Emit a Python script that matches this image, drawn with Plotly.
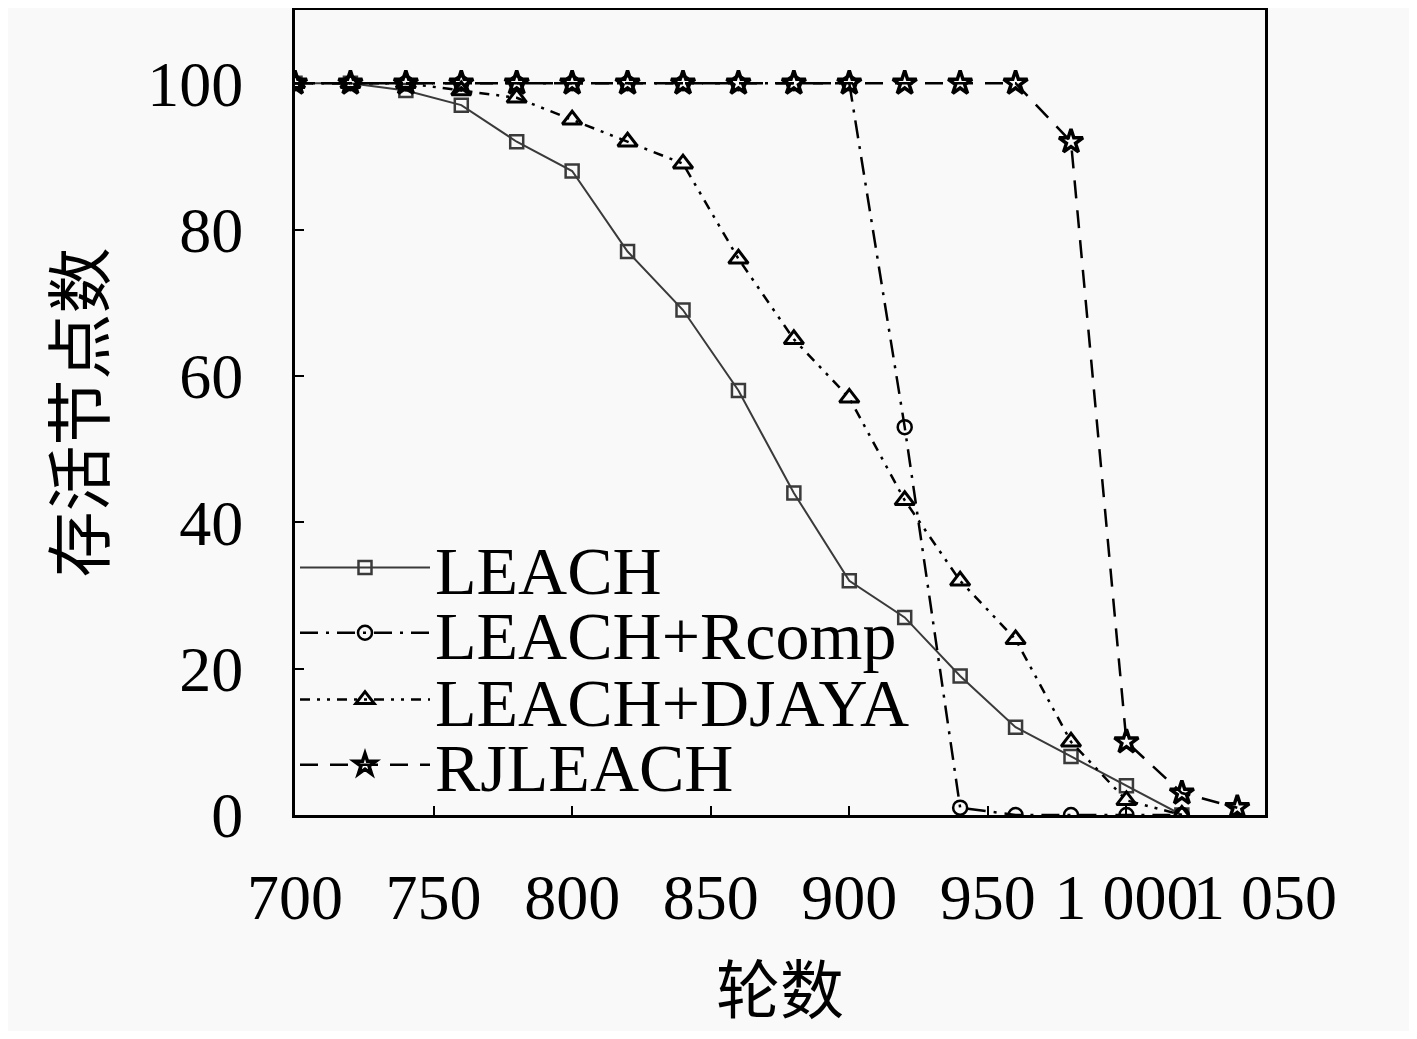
import plotly.graph_objects as go

# 轮数
rounds = [700, 720, 740, 760, 780, 800, 820, 840, 860, 880, 900,
          920, 940, 960, 980, 1000, 1020, 1040]

# 存活节点数
leach = [100, 100, 99, 97, 92, 88, 77, 69, 58, 44, 32,
         27, 19, 12, 8, 4, 0]
leach_rcomp = [100, 100, 100, 100, 100, 100, 100, 100, 100, 100, 100,
               53, 1, 0, 0, 0, 0]
leach_djaya = [100, 100, 100, 99, 98, 95, 92, 89, 76, 65, 57,
               43, 32, 24, 10, 2, 0]
rjleach = [100, 100, 100, 100, 100, 100, 100, 100, 100, 100, 100,
           100, 100, 100, 92, 10, 3, 1]

names = ["LEACH", "LEACH+Rcomp", "LEACH+DJAYA", "RJLEACH"]

xtick_vals = [700, 750, 800, 850, 900, 950, 1000, 1050]
xtick_text = ["700", "750", "800", "850", "900", "950", "1 000", "1 050"]
ytick_vals = [0, 20, 40, 60, 80, 100]

serif = "Liberation Serif, DejaVu Serif, serif"
cjk = "Noto Sans CJK SC"

fig = go.Figure()

fig.add_trace(go.Scatter(
    x=rounds[:len(leach)], y=leach, name=names[0], mode="lines+markers",
    legend="legend",
    line=dict(color="#3a3a3a", width=2, dash="solid"),
    marker=dict(symbol="square-open", size=13, color="#3a3a3a",
                line=dict(width=2.5, color="#3a3a3a"))))
fig.add_trace(go.Scatter(
    x=rounds[:len(leach_rcomp)], y=leach_rcomp, name=names[1], mode="lines+markers",
    legend="legend2",
    line=dict(color="black", width=2.5, dash="18px,8px,3px,8px"),
    marker=dict(symbol="circle-open", size=14, color="black",
                line=dict(width=2.5, color="black"))))
fig.add_trace(go.Scatter(
    x=rounds[:len(leach_djaya)], y=leach_djaya, name=names[2], mode="lines+markers",
    legend="legend3",
    line=dict(color="black", width=2.5, dash="10px,7px,3px,7px,3px,7px"),
    marker=dict(symbol="triangle-up-open", size=17, color="black",
                line=dict(width=3, color="black"))))
fig.add_trace(go.Scatter(
    x=rounds, y=rjleach, name=names[3], mode="lines+markers",
    legend="legend4",
    line=dict(color="black", width=2.5, dash="18px,12px"),
    marker=dict(symbol="star-open", size=18, color="black",
                line=dict(width=3.5, color="black"))))

# one legend per entry so the rows can sit as tight as in the original
legend_style = dict(x=0.0, xanchor="left", yanchor="middle",
                    bgcolor="rgba(0,0,0,0)", borderwidth=0,
                    font=dict(family=serif, size=68, color="black"),
                    itemwidth=130)

fig.update_layout(
    width=1401, height=1023,
    paper_bgcolor="#f9f9f9", plot_bgcolor="#f9f9f9",
    margin=dict(l=287, r=144, t=2, b=216),
    font=dict(family=serif, size=64, color="black"),
    showlegend=True,
    legend=dict(y=0.307, **legend_style),
    legend2=dict(y=0.226, **legend_style),
    legend3=dict(y=0.143, **legend_style),
    legend4=dict(y=0.062, **legend_style),
)

fig.update_xaxes(
    range=[700, 1050], tickvals=xtick_vals, ticktext=xtick_text,
    tickangle=0, automargin=False,
    showgrid=False, zeroline=False,
    showline=True, linecolor="black", linewidth=3, mirror=True,
    ticks="inside", ticklen=9, tickwidth=2, tickcolor="black",
    ticklabelstandoff=24,
    tickfont=dict(family=serif, size=64),
    title=dict(text="轮数", font=dict(family=cjk, size=64), standoff=58),
)
fig.update_yaxes(
    range=[0, 110], tickvals=ytick_vals, automargin=False,
    showgrid=False, zeroline=False,
    showline=True, linecolor="black", linewidth=3, mirror=True,
    ticks="inside", ticklen=9, tickwidth=2, tickcolor="black",
    ticklabelstandoff=36,
    tickfont=dict(family=serif, size=64),
    title=dict(text="存活节点数", font=dict(family=cjk, size=66), standoff=22),
)

fig.write_html("out.html")
